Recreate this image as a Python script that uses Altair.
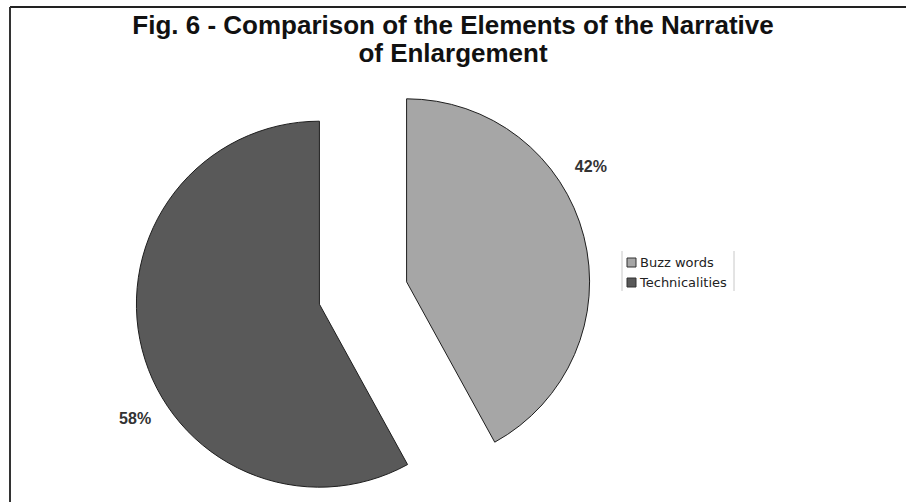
import altair as alt
import pandas as pd

# ---- data ----
categories = ["Buzz words", "Technicalities"]
values = [42, 58]
colors = ["#a6a6a6", "#595959"]
title_lines = ["Fig. 6 - Comparison of the Elements of the Narrative", "of Enlargement"]

df = pd.DataFrame({"category": categories, "value": values, "idx": list(range(len(categories)))})

# ---- layout ----
W, H = 906, 502
CX, CY = 363, 293      # pie centre before explosion
R = 183                # pie radius
EXPLODE = 45           # explosion distance
LABEL_R = 217
LABEL_SHIFT = -0.305   # radians, label angle relative to slice bisector

base = (
    alt.Chart(df)
    .transform_joinaggregate(total="sum(value)")
    .transform_window(cum="sum(value)", sort=[alt.SortField("idx")], frame=[None, 0])
    .transform_calculate(
        start="2*PI*(datum.cum - datum.value)/datum.total",
        end="2*PI*datum.cum/datum.total",
    )
    .transform_calculate(mid="(datum.start + datum.end)/2")
    .transform_calculate(
        cx=f"{CX} + {EXPLODE}*sin(datum.mid)",
        cy=f"{CY} - {EXPLODE}*cos(datum.mid)",
    )
    .transform_calculate(
        lx=f"datum.cx + {LABEL_R}*sin(datum.mid + ({LABEL_SHIFT}))",
        ly=f"datum.cy - {LABEL_R}*cos(datum.mid + ({LABEL_SHIFT}))",
        label="datum.value + '%'",
    )
)

arcs = base.mark_arc(radius=R, stroke="#1e1e1e", strokeWidth=1).encode(
    theta=alt.Theta("start:Q", scale=None),
    theta2="end:Q",
    x=alt.X("cx:Q", scale=None, axis=None),
    y=alt.Y("cy:Q", scale=None, axis=None),
    color=alt.Color(
        "category:N",
        scale=alt.Scale(domain=categories, range=colors),
        legend=alt.Legend(
            title=None,
            orient="none",
            legendX=625,
            legendY=256,
            padding=0,
            symbolType="square",
            symbolSize=81,
            symbolStrokeColor="#333333",
            symbolStrokeWidth=1,
            symbolOpacity=1,
            labelFont="DejaVu Sans",
            labelFontSize=13,
            labelColor="#222222",
            labelOffset=2,
            rowPadding=6,
        ),
    ),
)

labels = base.mark_text(
    font="Liberation Sans", fontSize=16, fontWeight="bold", color="#333333",
    align="center", baseline="middle",
).encode(
    x=alt.X("lx:Q", scale=None, axis=None),
    y=alt.Y("ly:Q", scale=None, axis=None),
    text="label:N",
)

one = pd.DataFrame({"k": [0]})
title = alt.Chart(one).mark_text(
    font="Liberation Sans", fontSize=26, fontWeight="bold", color="#111111",
    align="center", baseline="alphabetic", lineHeight=28,
).encode(
    x=alt.value(W / 2), y=alt.value(34), text=alt.value(title_lines)
)

# page frame (top and left border lines)
frame_top = alt.Chart(one).mark_rule(color="#222222", strokeWidth=2).encode(
    x=alt.value(10), x2=alt.value(W), y=alt.value(7)
)
frame_left = alt.Chart(one).mark_rule(color="#333333", strokeWidth=2).encode(
    x=alt.value(10), y=alt.value(7), y2=alt.value(H)
)
# legend side lines
leg_l = alt.Chart(one).mark_rule(color="#c8c8c8", strokeWidth=1).encode(
    x=alt.value(622), y=alt.value(251), y2=alt.value(291)
)
leg_r = alt.Chart(one).mark_rule(color="#c8c8c8", strokeWidth=1).encode(
    x=alt.value(734), y=alt.value(251), y2=alt.value(291)
)

chart = (
    alt.layer(arcs, labels, title, frame_top, frame_left, leg_l, leg_r)
    .properties(width=W, height=H, padding=0, autosize=alt.AutoSizeParams(type="none"), background="white")
    .configure_view(stroke=None)
)

chart.save("out.html", embed_options={"renderer": "svg", "actions": False})
